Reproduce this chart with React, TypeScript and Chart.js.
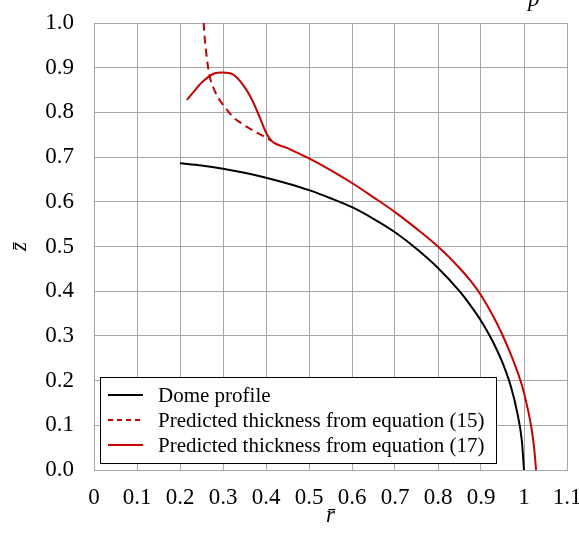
import React, { useEffect, useRef } from "react";
import { Chart, registerables } from "chart.js";

Chart.register(...registerables);

// ---- data ----
const domeR = [0.2, 0.25, 0.3, 0.35, 0.4, 0.45, 0.5, 0.55, 0.6, 0.65, 0.7, 0.75, 0.8, 0.85, 0.875, 0.9, 0.925, 0.95, 0.97, 0.985, 0.995, 1.0];
const domeZ = [0.686, 0.681, 0.674, 0.665, 0.654, 0.641, 0.626, 0.608, 0.588, 0.562, 0.532, 0.495, 0.452, 0.4, 0.369, 0.334, 0.292, 0.24, 0.185, 0.125, 0.065, 0.0];

const eq15R = [0.253, 0.255, 0.258, 0.261, 0.268, 0.28, 0.292, 0.31, 0.323, 0.342, 0.362, 0.38, 0.397, 0.412];
const eq15Z = [1.03, 1.0, 0.96, 0.933, 0.885, 0.85, 0.828, 0.805, 0.79, 0.776, 0.764, 0.754, 0.745, 0.737];

const eq17R = [0.216, 0.235, 0.253, 0.277, 0.3, 0.323, 0.347, 0.366, 0.385, 0.4, 0.412, 0.45, 0.5, 0.55, 0.6, 0.65, 0.7, 0.75, 0.8, 0.85, 0.875, 0.9, 0.925, 0.95, 0.975, 0.995, 1.008, 1.018, 1.024, 1.028];
const eq17Z = [0.828, 0.85, 0.869, 0.886, 0.889, 0.885, 0.861, 0.831, 0.79, 0.755, 0.737, 0.72, 0.697, 0.671, 0.642, 0.61, 0.577, 0.54, 0.5, 0.452, 0.424, 0.391, 0.35, 0.302, 0.245, 0.19, 0.14, 0.09, 0.045, 0.0];

const xTickLabels = ["0", "0.1", "0.2", "0.3", "0.4", "0.5", "0.6", "0.7", "0.8", "0.9", "1", "1.1"];
const yTickLabels = ["0.0", "0.1", "0.2", "0.3", "0.4", "0.5", "0.6", "0.7", "0.8", "0.9", "1.0"];

const seriesLabels = [
  "Dome profile",
  "Predicted thickness from equation (15)",
  "Predicted thickness from equation (17)",
];
const xTitle = "r\u0304";
const yTitle = "z\u0304";
const topFragment = "p";

const RED = "#c80000";
const GRID = "#a6a6a6";
const SERIF = "'Liberation Serif', 'Times New Roman', serif";

const toPts = (r: number[], z: number[]) => r.map((x, i) => ({ x, y: z[i] }));

const boxLegend = {
  id: "boxLegend",
  afterDraw(chart: any) {
    const ctx = chart.ctx as CanvasRenderingContext2D;
    const bx = 100, by = 377, bw = 396, bh = 86;
    ctx.save();
    ctx.fillStyle = "#ffffff";
    ctx.fillRect(bx, by, bw, bh);
    ctx.strokeStyle = "#000000";
    ctx.lineWidth = 1;
    ctx.strokeRect(bx + 0.5, by + 0.5, bw, bh);
    const ds = chart.data.datasets;
    ctx.font = `21px ${SERIF}`;
    ctx.textBaseline = "middle";
    ds.forEach((d: any, i: number) => {
      const y = by + 18 + i * 25;
      ctx.beginPath();
      ctx.strokeStyle = d.borderColor;
      ctx.lineWidth = 2;
      ctx.setLineDash(d.borderDash ? [5, 4] : []);
      ctx.moveTo(bx + 8, y);
      ctx.lineTo(bx + 43, y);
      ctx.stroke();
      ctx.setLineDash([]);
      ctx.fillStyle = "#000000";
      ctx.fillText(d.label, bx + 58, y + 1);
    });
    ctx.font = `italic 23px ${SERIF}`;
    ctx.textBaseline = "alphabetic";
    ctx.fillText(topFragment, 528, 6);
    ctx.restore();
  },
};

export default function App() {
  const ref = useRef<HTMLCanvasElement | null>(null);
  useEffect(() => {
    if (!ref.current) return;
    const common = {
      borderWidth: 2,
      pointRadius: 0,
      cubicInterpolationMode: "monotone",
      fill: false,
    };
    const chart = new Chart(ref.current, {
      type: "line",
      data: {
        datasets: [
          { ...common, label: seriesLabels[0], data: toPts(domeR, domeZ), borderColor: "#000000" },
          { ...common, label: seriesLabels[1], data: toPts(eq15R, eq15Z), borderColor: RED, borderDash: [8, 5] },
          { ...common, label: seriesLabels[2], data: toPts(eq17R, eq17Z), borderColor: RED },
        ],
      },
      options: {
        responsive: false,
        animation: false,
        layout: { autoPadding: false, padding: { top: 23, right: 12, left: 0, bottom: 0 } },
        plugins: { legend: { display: false }, tooltip: { enabled: false } },
        scales: {
          x: {
            type: "linear",
            min: 0,
            max: 1.1,
            afterFit: (s: any) => {
              s.height = 66;
              s.paddingLeft = 0;
              s.paddingRight = 0;
            },
            ticks: {
              stepSize: 0.1,
              padding: 14,
              color: "#000000",
              font: { family: SERIF, size: 23 },
              maxRotation: 0,
              autoSkip: false,
              callback: (v: any) => xTickLabels[Math.round(Number(v) * 10)] ?? "",
            },
            grid: { color: GRID, drawTicks: false, lineWidth: 1 },
            border: { color: GRID },
            title: {
              display: true,
              text: xTitle,
              color: "#000000",
              font: { family: SERIF, size: 23, style: "italic" },
              padding: { top: 0, bottom: 6 },
            },
          },
          y: {
            type: "linear",
            min: 0,
            max: 1.0,
            afterFit: (s: any) => {
              s.width = 94;
              s.paddingTop = 0;
              s.paddingBottom = 0;
            },
            ticks: {
              stepSize: 0.1,
              padding: 20,
              color: "#000000",
              font: { family: SERIF, size: 23 },
              autoSkip: false,
              callback: (v: any) => yTickLabels[Math.round(Number(v) * 10)] ?? "",
            },
            grid: { color: GRID, drawTicks: false, lineWidth: 1 },
            border: { color: GRID },
            title: {
              display: true,
              text: yTitle,
              color: "#000000",
              font: { family: SERIF, size: 23, style: "italic" },
              padding: { top: 6, bottom: 0 },
            },
          },
        },
      },
      plugins: [boxLegend],
    } as any);
    return () => chart.destroy();
  }, []);
  return (
    <div style={{ position: "absolute", top: 0, left: 0, width: 579, height: 536, background: "#fff" }}>
      <canvas ref={ref} width={579} height={536} />
    </div>
  );
}
